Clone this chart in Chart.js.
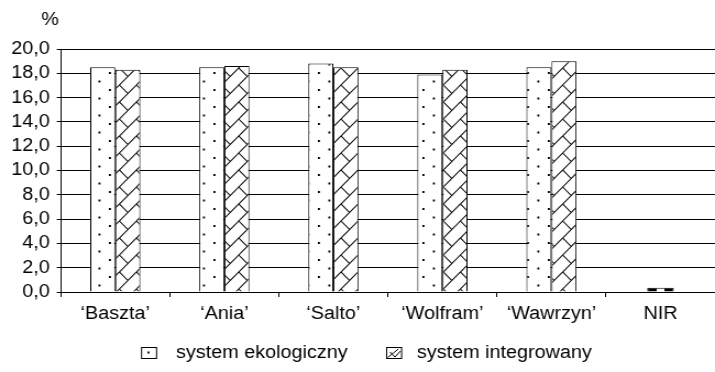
<!DOCTYPE html>
<html>
<head>
<meta charset="utf-8">
<script src="https://cdn.jsdelivr.net/npm/chart.js@4.4.1/dist/chart.umd.min.js"></script>
<style>
  html, body { margin: 0; padding: 0; background: #fff; overflow: hidden; }
  /* the chart is drawn 650px wide and widened to 715px */
  #wrap { width: 650px; height: 372px; transform: scaleX(1.1); transform-origin: 0 0; }
  #chart { display: block; }
</style>
</head>
<body>
<div id="wrap"><canvas id="chart" width="650" height="372"></canvas></div>
<script>
const categories = ['\u2018Baszta\u2019', '\u2018Ania\u2019', '\u2018Salto\u2019', '\u2018Wolfram\u2019', '\u2018Wawrzyn\u2019', 'NIR'];
const ekologiczny = [18.5, 18.5, 18.8, 17.9, 18.5, null];
const integrowany = [18.3, 18.6, 18.5, 18.3, 19.0, null];
const nir = [null, null, null, null, null, 0.35];
const seriesNames = ['system ekologiczny', 'system integrowany'];
const yTicks = [0, 2, 4, 6, 8, 10, 12, 14, 16, 18, 20];

const FONT = '"Liberation Sans", Arial, sans-serif';
const FS = 18;

function dotPattern(ctx) {
  const w = 19, h = 17;
  const t = document.createElement('canvas');
  t.width = w; t.height = h;
  const c = t.getContext('2d');
  c.fillStyle = '#fff';
  c.fillRect(0, 0, w, h);
  c.fillStyle = '#000';
  c.fillRect(4, 4, 1.8, 2);
  c.fillRect(13.5, 12.5, 1.8, 2);
  return ctx.createPattern(t, 'repeat');
}

// diagonal brick: continuous "/" strokes joined by short "\" steps
function brickPattern(ctx) {
  const w = 15.5, h = 17;
  const t = document.createElement('canvas');
  t.width = 31; t.height = 34;
  const c = t.getContext('2d');
  c.fillStyle = '#fff';
  c.fillRect(0, 0, 31, 34);
  c.strokeStyle = '#000';
  c.lineWidth = 1.1;
  c.beginPath();
  for (let i = -1; i <= 2; i++) {
    for (let j = -1; j <= 2; j++) {
      const ox = i * w, oy = j * h;
      c.moveTo(ox, oy + h); c.lineTo(ox + w, oy);
      c.moveTo(ox, oy); c.lineTo(ox + w / 2, oy + h / 2);
    }
  }
  c.stroke();
  return ctx.createPattern(t, 'repeat');
}

const canvas = document.getElementById('chart');
const ctx = canvas.getContext('2d');
const dots = dotPattern(ctx);
const bricks = brickPattern(ctx);

// small significance bar: dark ends with a light centre
function nirFill(context) {
  const chart = context.chart;
  const xs = chart.scales.x;
  if (!xs || !chart.chartArea) return '#000';
  const cx = xs.getPixelForValue(context.dataIndex);
  const half = 12.3;
  const g = chart.ctx.createLinearGradient(cx - half, 0, cx + half, 0);
  g.addColorStop(0, '#000');
  g.addColorStop(0.36, '#000');
  g.addColorStop(0.36, '#fff');
  g.addColorStop(0.64, '#fff');
  g.addColorStop(0.64, '#000');
  g.addColorStop(1, '#000');
  return g;
}

const extras = {
  id: 'extras',
  afterDraw(chart) {
    const c = chart.ctx;
    c.save();
    c.fillStyle = '#000';
    c.font = FS + 'px ' + FONT;
    c.textAlign = 'center';
    c.textBaseline = 'middle';
    c.fillText('%', 45.5, 20);

    // legend
    const items = [
      { box: 128.2, text: 160, label: seriesNames[0], kind: 'dot' },
      { box: 351, text: 379, label: seriesNames[1], kind: 'brick' }
    ];
    const by = 347, bw = 13.6, bh = 11, ty = 353;
    items.forEach(it => {
      c.fillStyle = '#fff';
      c.fillRect(it.box, by, bw, bh);
      c.strokeStyle = '#000';
      c.lineWidth = 1;
      if (it.kind === 'dot') {
        c.fillStyle = '#000';
        c.fillRect(it.box + bw / 2 - 0.9, by + bh / 2 - 1, 1.8, 2);
      } else {
        c.beginPath();
        c.moveTo(it.box + 1.5, by + bh - 0.5);
        c.lineTo(it.box + bw - 2.5, by + 2);
        c.moveTo(it.box + 3.5, by + 5);
        c.lineTo(it.box + 8, by + bh - 1);
        c.moveTo(it.box + 8, by + bh - 1);
        c.lineTo(it.box + bw - 0.5, by + 4);
        c.stroke();
      }
      c.strokeRect(it.box + 0.5, by + 0.5, bw, bh);
      c.fillStyle = '#000';
      c.textAlign = 'left';
      c.textBaseline = 'middle';
      c.font = FS + 'px ' + FONT;
      c.fillText(it.label, it.text, ty);
    });
    c.restore();
  }
};

new Chart(ctx, {
  type: 'bar',
  data: {
    labels: categories,
    datasets: [
      {
        label: seriesNames[0],
        data: ekologiczny,
        backgroundColor: dots,
        borderColor: '#000',
        borderWidth: 1,
        barPercentage: 1,
        categoryPercentage: 0.46
      },
      {
        label: seriesNames[1],
        data: integrowany,
        backgroundColor: bricks,
        borderColor: '#000',
        borderWidth: 1,
        barPercentage: 1,
        categoryPercentage: 0.46
      },
      {
        label: 'NIR',
        data: nir,
        grouped: false,
        backgroundColor: nirFill,
        borderColor: '#000',
        borderWidth: 1,
        barPercentage: 1,
        categoryPercentage: 0.244
      }
    ]
  },
  options: {
    responsive: false,
    animation: false,
    devicePixelRatio: 1,
    layout: { padding: { left: 3.8, right: -13, top: 49, bottom: 41.4 } },
    plugins: {
      legend: { display: false },
      tooltip: { enabled: false },
      title: { display: false }
    },
    scales: {
      x: {
        grid: {
          display: true,
          drawOnChartArea: false,
          drawTicks: true,
          tickLength: 5,
          color: '#000',
          offset: true
        },
        border: { display: true, color: '#000', width: 1 },
        ticks: {
          color: '#000',
          font: { family: FONT, size: FS },
          padding: 6,
          maxRotation: 0,
          autoSkip: false
        }
      },
      y: {
        min: 0,
        max: 20,
        afterBuildTicks(scale) {
          scale.ticks = yTicks.map(v => ({ value: v }));
        },
        grid: {
          color: '#000',
          lineWidth: 1,
          drawTicks: true,
          tickLength: 3.6
        },
        border: { display: true, color: '#000', width: 1 },
        ticks: {
          color: '#000',
          font: { family: FONT, size: FS },
          padding: 6.4,
          autoSkip: false,
          callback: v => Number(v).toFixed(1).replace('.', ',')
        }
      }
    }
  },
  plugins: [extras]
});
</script>
</body>
</html>
